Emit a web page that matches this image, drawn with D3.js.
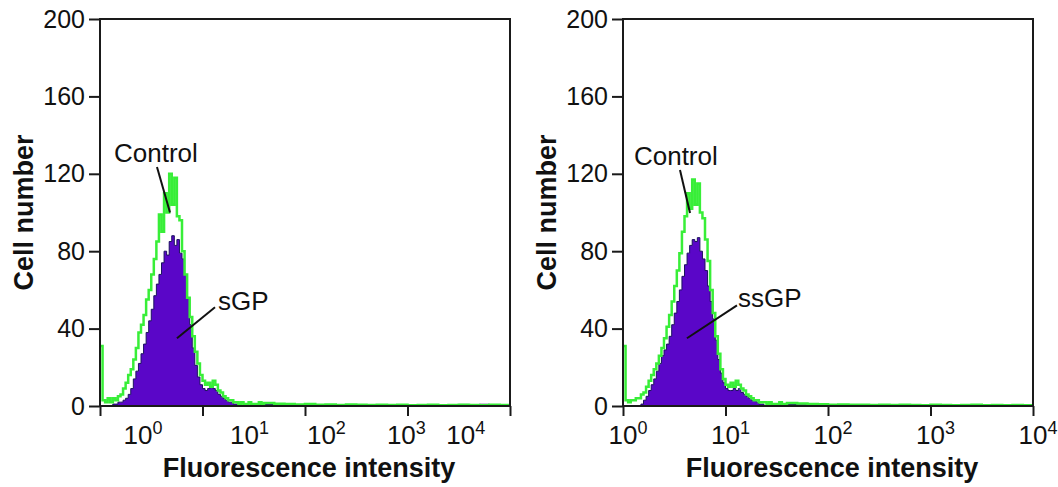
<!DOCTYPE html>
<html>
<head>
<meta charset="utf-8">
<script src="https://cdn.jsdelivr.net/npm/d3@7"></script>
<style>
  body { margin: 0; background: #fff; }
  text { font-family: Arial, "Liberation Sans", sans-serif; fill: #111; }
</style>
</head>
<body>
<svg id="chart" width="1058" height="487"></svg>
<script>
// tick marks sit on whole decades, 10^0 .. 10^4
const decades = [0, 1, 2, 3, 4];
// where the "10^n" labels sit (in decades); the left panel's labels are offset in the original
const leftLabelDecades = [0.37, 1.41, 2.16, 2.94, 3.52];
const rightLabelDecades = [0, 1, 2, 3, 4];
const yTicks = [0, 40, 80, 120, 160, 200];

// channel counts, peak region: one value per 0.025 decade starting at 10^0
const binWidth = 0.025;
const leftControl = [31, 3, 2, 4, 2, 4, 3, 5, 6, 9,
  12, 16, 19, 24, 30, 38, 42, 47, 55, 60,
  68, 76, 85, 99, 90, 110, 100, 120, 104, 118,
  98, 96, 80, 68, 56, 46, 36, 28, 22, 16,
  13, 11, 12, 10, 13, 11, 8, 7, 5, 4,
  3, 3, 2, 2, 1, 2, 1, 1, 2, 1,
  1, 1, 2, 1];
const leftSGP = [0, 0, 0, 0, 0, 1, 1, 2, 2, 3,
  4, 6, 9, 14, 18, 22, 27, 32, 38, 44,
  50, 57, 63, 68, 74, 80, 78, 85, 88, 83,
  86, 79, 76, 68, 56, 42, 30, 21, 15, 11,
  9, 8, 9, 10, 9, 8, 6, 5, 4, 3,
  2, 2, 1, 1, 1, 0, 1, 0, 0, 1,
  0, 0, 1, 0];
const rightControl = [31, 3, 2, 3, 3, 4, 4, 6, 7, 10,
  13, 16, 19, 22, 26, 30, 35, 41, 47, 54,
  62, 70, 79, 90, 98, 110, 102, 117, 104, 115,
  100, 97, 86, 75, 60, 48, 36, 27, 19, 14,
  11, 10, 12, 10, 13, 11, 9, 8, 6, 5,
  4, 3, 3, 2, 2, 2, 1, 2, 1, 1,
  1, 2, 1, 1];
const rightSsGP = [0, 0, 0, 0, 0, 0, 0, 1, 3, 5,
  8, 11, 14, 18, 22, 26, 29, 32, 36, 42,
  48, 54, 60, 67, 73, 79, 83, 86, 85, 87,
  80, 76, 70, 62, 54, 45, 34, 24, 17, 12,
  9, 8, 8, 9, 8, 9, 7, 6, 5, 4,
  3, 3, 2, 1, 1, 0, 1, 0, 0, 1,
  0, 1, 0, 0];

// low tail: one value per 0.1 decade from 10^1.6 to 10^4
const tailStart = 1.6, tailWidth = 0.1;
const leftControlTail = [1.5, 1.2, 1, 0.8, 1, 0.6, 0.8, 0.5, 0.8, 0.6, 0.5, 0.7,
  0.5, 0.6, 0.4, 0.5, 0.6, 0.4, 0.5, 0.7, 0.5, 0.4, 0.6, 0.5];
const leftSGPTail = [0.8, 0.5, 0.4, 0.3, 0.5, 0.2, 0.4, 0.3, 0.6, 0.2, 0.4, 0.3,
  0.5, 0.2, 0.4, 0.6, 0.3, 0.2, 0.5, 0.8, 0.4, 0.9, 0.5, 0.3];
const rightControlTail = [1.5, 1.3, 1, 0.9, 0.7, 0.8, 0.6, 0.7, 0.5, 0.6, 0.5, 0.7,
  0.5, 0.4, 0.6, 0.5, 0.4, 0.5, 0.6, 0.4, 0.5, 0.4, 0.5, 0.4];
const rightSsGPTail = [0.8, 0.6, 0.4, 0.3, 0.4, 0.2, 0.3, 0.5, 0.2, 0.3, 0.2, 0.4,
  0.2, 0.3, 0.2, 0.4, 0.2, 0.3, 0.2, 0.3, 0.2, 0.3, 0.2, 0.2];

const svg = d3.select("#chart");
const plotTop = 19, plotBottom = 406;

const panels = [
  { left: 100, right: 510, control: leftControl, controlTail: leftControlTail,
    treated: leftSGP, treatedTail: leftSGPTail, labels: leftLabelDecades,
    name: "sGP", ctrlText: [0.137, 126], ctrlLine: [[0.556, 123.5], [0.683, 100]],
    nameText: [1.151, 49.6], nameLine: [[1.122, 51], [0.751, 35]], titleX: 22 },
  { left: 623, right: 1033, control: rightControl, controlTail: rightControlTail,
    treated: rightSsGP, treatedTail: rightSsGPTail, labels: rightLabelDecades,
    name: "ssGP", ctrlText: [0.107, 124.5], ctrlLine: [[0.556, 122], [0.654, 99.7]],
    nameText: [1.122, 51], nameLine: [[1.112, 52], [0.624, 35]], titleX: 545 }
];

function toPoints(main, tail) {
  const pts = main.map((v, i) => [Math.pow(10, i * binWidth), v]);
  tail.forEach((v, j) => pts.push([Math.pow(10, tailStart + j * tailWidth), v]));
  pts.push([1e4, tail[tail.length - 1]]);
  return pts;
}

panels.forEach((p, k) => {
  const x = d3.scaleLog().domain([1, 1e4]).range([p.left, p.right]);
  const y = d3.scaleLinear().domain([0, 200]).range([plotBottom, plotTop]);
  const dx = d => x(Math.pow(10, d));
  const g = svg.append("g");

  g.append("clipPath").attr("id", "clip" + k)
    .append("rect").attr("x", p.left).attr("y", plotTop)
    .attr("width", p.right - p.left).attr("height", plotBottom - plotTop);

  const plot = g.append("g").attr("clip-path", `url(#clip${k})`);
  const treated = toPoints(p.treated, p.treatedTail);
  const control = toPoints(p.control, p.controlTail);

  plot.append("path").datum(treated)
    .attr("fill", "#5a06c8")
    .attr("d", d3.area().curve(d3.curveStepAfter)
      .x(d => x(d[0])).y0(y(0)).y1(d => y(d[1])));
  plot.append("path").datum(treated)
    .attr("fill", "none").attr("stroke", "#1c1260").attr("stroke-width", 1)
    .attr("d", d3.line().curve(d3.curveStepAfter).x(d => x(d[0])).y(d => y(d[1])));
  plot.append("path").datum(control)
    .attr("fill", "none").attr("stroke", "#38ee38").attr("stroke-width", 2.5)
    .attr("d", d3.line().curve(d3.curveStepAfter).x(d => x(d[0])).y(d => y(d[1])));

  // frame
  g.append("rect").attr("x", p.left).attr("y", plotTop)
    .attr("width", p.right - p.left).attr("height", plotBottom - plotTop)
    .attr("fill", "none").attr("stroke", "#1a1a1a").attr("stroke-width", 2);

  // y axis
  const yAxis = g.append("g").attr("transform", `translate(${p.left},0)`)
    .call(d3.axisLeft(y).tickValues(yTicks).tickSize(11).tickPadding(4));
  yAxis.select(".domain").remove();
  yAxis.selectAll("line").attr("stroke", "#1a1a1a").attr("stroke-width", 2);
  yAxis.selectAll("text").attr("font-size", 25).attr("fill", "#111")
    .attr("font-family", "Arial, 'Liberation Sans', sans-serif");

  // x axis tick marks
  const xAxis = g.append("g").attr("transform", `translate(0,${plotBottom})`)
    .call(d3.axisBottom(x).tickValues(decades.map(d => Math.pow(10, d)))
      .tickSize(10).tickFormat(""));
  xAxis.select(".domain").remove();
  xAxis.selectAll("line").attr("stroke", "#1a1a1a").attr("stroke-width", 2);

  // 10^n labels
  const fs = 26;
  p.labels.forEach((d, i) => {
    const t = g.append("text").attr("x", dx(d) - 0.556 * fs).attr("y", 444)
      .attr("font-size", fs);
    t.append("tspan").text("10");
    t.append("tspan").attr("font-size", 18).attr("dy", -10).text(decades[i]);
  });

  // axis titles
  g.append("text").attr("x", (p.left + p.right) / 2 + 4).attr("y", 477)
    .attr("text-anchor", "middle").attr("font-size", 27).attr("font-weight", "bold")
    .text("Fluorescence intensity");
  g.append("text")
    .attr("transform", `translate(${p.titleX + 11},${(plotTop + plotBottom) / 2}) rotate(-90)`)
    .attr("text-anchor", "middle").attr("font-size", 27).attr("font-weight", "bold")
    .text("Cell number");

  // annotations
  g.append("text").attr("x", dx(p.ctrlText[0])).attr("y", y(p.ctrlText[1]))
    .attr("font-size", 26).text("Control");
  g.append("line")
    .attr("x1", dx(p.ctrlLine[0][0])).attr("y1", y(p.ctrlLine[0][1]))
    .attr("x2", dx(p.ctrlLine[1][0])).attr("y2", y(p.ctrlLine[1][1]))
    .attr("stroke", "#111").attr("stroke-width", 2);
  g.append("text").attr("x", dx(p.nameText[0])).attr("y", y(p.nameText[1]))
    .attr("font-size", 26).text(p.name);
  g.append("line")
    .attr("x1", dx(p.nameLine[0][0])).attr("y1", y(p.nameLine[0][1]))
    .attr("x2", dx(p.nameLine[1][0])).attr("y2", y(p.nameLine[1][1]))
    .attr("stroke", "#111").attr("stroke-width", 2);
});
</script>
</body>
</html>
